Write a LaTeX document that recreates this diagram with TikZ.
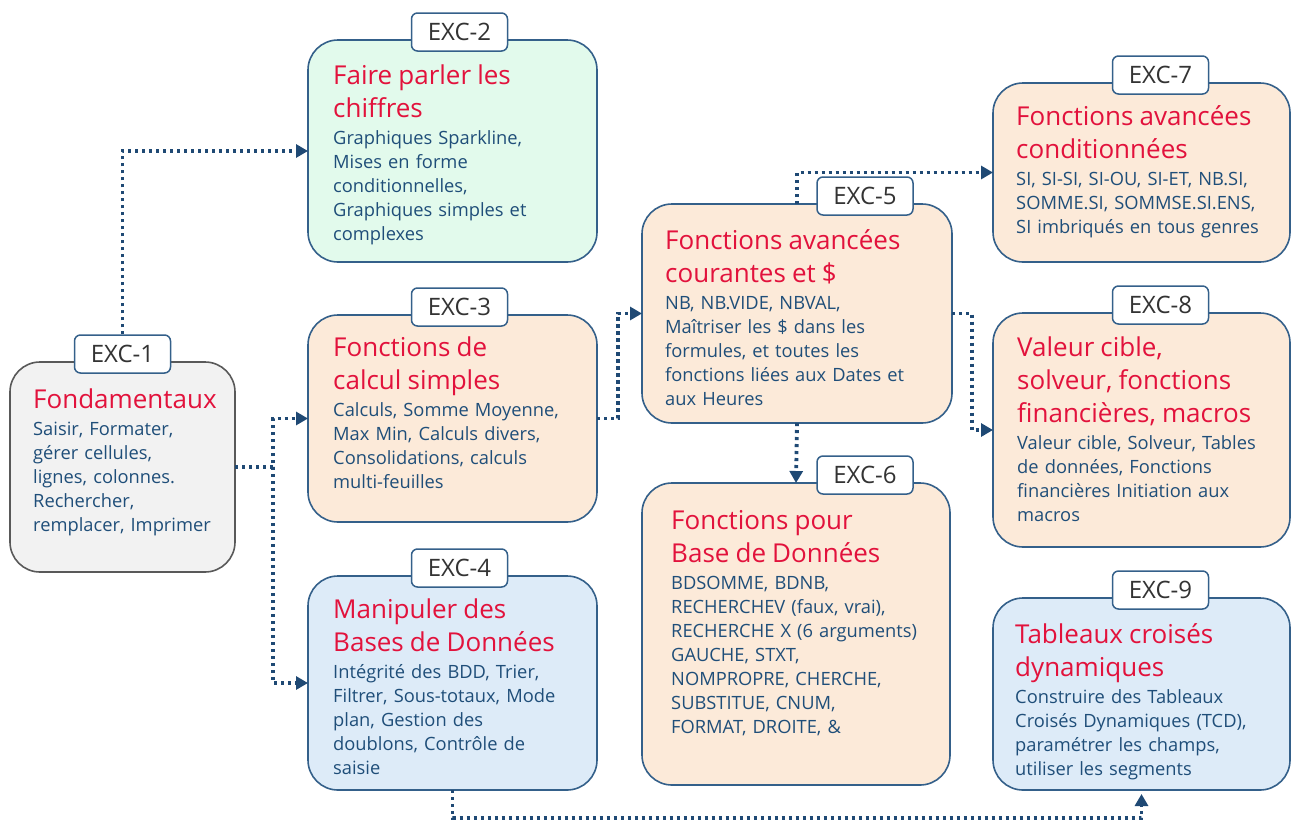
\documentclass[tikz,border=0pt]{standalone}
\usepackage{fontspec}
\setmainfont{Open Sans}
\usetikzlibrary{arrows.meta}

\definecolor{titlered}{RGB}{226,18,60}
\definecolor{bodyblue}{RGB}{31,78,121}
\definecolor{boxline}{RGB}{52,96,138}
\definecolor{linkblue}{RGB}{31,73,116}
\definecolor{tabtext}{RGB}{51,51,51}
\definecolor{grayfill}{RGB}{242,242,242}
\definecolor{greenfill}{RGB}{226,250,236}
\definecolor{peachfill}{RGB}{252,234,217}
\definecolor{bluefill}{RGB}{221,235,248}

\newcommand\ttl[1]{{\color{titlered}\fontsize{26}{33}\selectfont #1\par}\vspace{3pt}}

\tikzset{
  box/.style={draw=boxline, line width=1.6pt, rounded corners=30pt, anchor=north west, inner sep=0pt, outer sep=0pt},
  tab/.style={draw=boxline, fill=white, line width=1.5pt, rounded corners=6pt, minimum width=96pt, minimum height=38pt, inner sep=0pt, text=tabtext, font=\fontsize{24}{28}\selectfont},
  txt/.style={anchor=north west, inner sep=0pt, text width=280pt, align=left, text=bodyblue, font=\fontsize{18.3}{24}\selectfont},
  link/.style={draw=linkblue, line width=3.8pt, dash pattern=on 3.2pt off 3.8pt, -{Triangle[length=12pt,width=13pt]}}
}

\begin{document}
\begin{tikzpicture}[x=1pt,y=-1pt]
\useasboundingbox (0,0) rectangle (1292,822);

% boxes
\node[box, draw=black!65, fill=grayfill, minimum width=225pt, minimum height=210pt] (b1) at (10,362) {};
\node[box, fill=greenfill, minimum width=289pt, minimum height=222pt] (b2) at (308,40) {};
\node[box, fill=peachfill, minimum width=289pt, minimum height=207pt] (b3) at (308,315) {};
\node[box, fill=bluefill, minimum width=289pt, minimum height=214pt] (b4) at (308,576) {};
\node[box, fill=peachfill, minimum width=310pt, minimum height=219pt] (b5) at (642,204) {};
\node[box, fill=peachfill, minimum width=308pt, minimum height=302pt] (b6) at (642,483) {};
\node[box, fill=peachfill, minimum width=297pt, minimum height=179pt] (b7) at (993,83) {};
\node[box, fill=peachfill, minimum width=297pt, minimum height=234pt] (b8) at (993,313) {};
\node[box, fill=bluefill, minimum width=297pt, minimum height=192pt] (b9) at (993,598) {};

% texts
\node[txt] (x1) at ([shift={(23,27)}]b1.north west) {\ttl{Fondamentaux}Saisir, Formater,\\gérer cellules,\\lignes, colonnes.\\Rechercher,\\remplacer, Imprimer};
\node[txt] (x2) at ([shift={(25,25)}]b2.north west) {\ttl{Faire parler les\\chiffres}Graphiques Sparkline,\\Mises en forme\\conditionnelles,\\Graphiques simples et\\complexes};
\node[txt] (x3) at ([shift={(25,22)}]b3.north west) {\ttl{Fonctions de\\calcul simples}Calculs, Somme Moyenne,\\Max Min, Calculs divers,\\Consolidations, calculs\\multi-feuilles};
\node[txt] (x4) at ([shift={(25,23)}]b4.north west) {\ttl{Manipuler des\\Bases de Données}Intégrité des BDD, Trier,\\Filtrer, Sous-totaux, Mode\\plan, Gestion des\\doublons, Contrôle de\\saisie};
\node[txt] (x5) at ([shift={(23,25)}]b5.north west) {\ttl{Fonctions avancées\\courantes et \$}NB, NB.VIDE, NBVAL,\\Maîtriser les \$ dans les\\formules, et toutes les\\fonctions liées aux Dates et\\aux Heures};
\node[txt] (x6) at ([shift={(29,27)}]b6.north west) {\ttl{Fonctions pour\\Base de Données}BDSOMME, BDNB,\\RECHERCHEV (faux, vrai),\\RECHERCHE X (6 arguments)\\GAUCHE, STXT,\\NOMPROPRE, CHERCHE,\\SUBSTITUE, CNUM,\\FORMAT, DROITE, \&};
\node[txt] (x7) at ([shift={(23,22)}]b7.north west) {\ttl{Fonctions avancées\\conditionnées}SI, SI-SI, SI-OU, SI-ET, NB.SI,\\SOMME.SI, SOMMSE.SI.ENS,\\SI imbriqués en tous genres};
\node[txt] (x8) at ([shift={(24,24)}]b8.north west) {\ttl{Valeur cible,\\solveur, fonctions\\financières, macros}Valeur cible, Solveur, Tables\\de données, Fonctions\\financières Initiation aux\\macros};
\node[txt] (x9) at ([shift={(22,25)}]b9.north west) {\ttl{Tableaux croisés\\dynamiques}Construire des Tableaux\\Croisés Dynamiques (TCD),\\paramétrer les champs,\\utiliser les segments};

% tabs
\node[tab] (t1) at ([yshift=8pt]b1.north) {EXC-1};
\node[tab] (t2) at ([shift={(7,-8)}]b2.north) {EXC-2};
\node[tab] (t3) at ([shift={(7,-8)}]b3.north) {EXC-3};
\node[tab] (t4) at ([shift={(7,-8)}]b4.north) {EXC-4};
\node[tab] (t5) at ([shift={(68,-8)}]b5.north) {EXC-5};
\node[tab] (t6) at ([shift={(69,-8)}]b6.north) {EXC-6};
\node[tab] (t7) at ([shift={(19,-8)}]b7.north) {EXC-7};
\node[tab] (t8) at ([shift={(19,-8)}]b8.north) {EXC-8};
\node[tab] (t9) at ([shift={(19,-8)}]b9.north) {EXC-9};

% links
\draw[link] (t1.north) |- (b2.west);
\draw[link] (b1.east) -- ++(38,0) coordinate (j1) |- (b3.west);
\draw[link] (j1) |- (b4.west);
\draw[link] (b3.east) -- ++(21,0) |- (b5.west);
\draw[link] (b5.north) |- (b7.west);
\draw[link] (b5.east) -- ++(20,0) |- (b8.west);
\draw[link] (b5.south) -- (b6.north);
\draw[link, shorten >=4pt] (b4.south) -- ++(0,28) -| (b9.south);
\end{tikzpicture}
\end{document}
